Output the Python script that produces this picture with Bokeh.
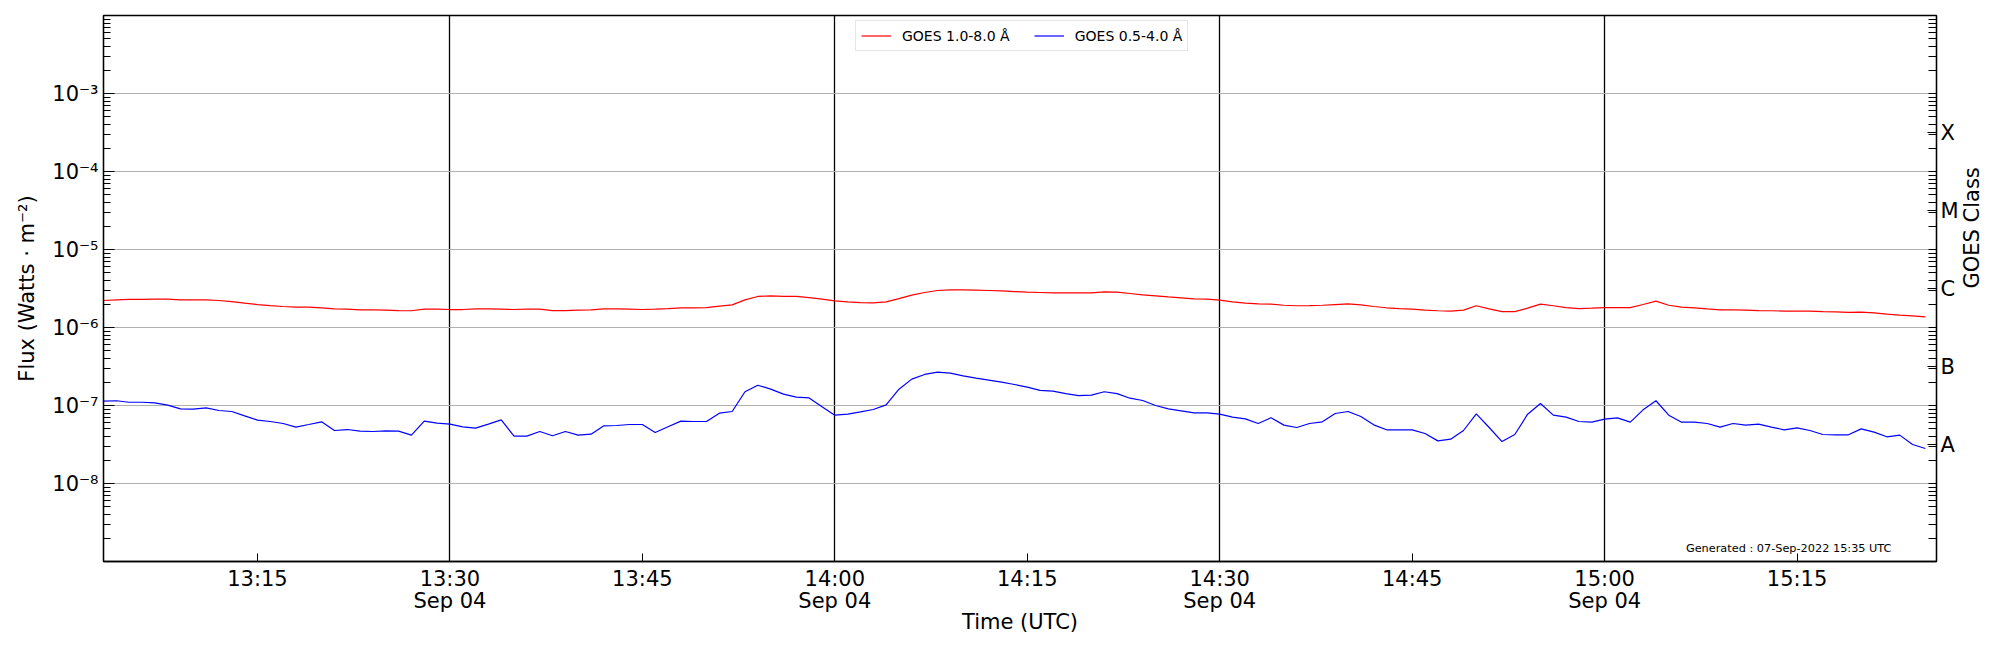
import numpy as np
import pandas as pd
from bokeh.plotting import figure
from bokeh.models import (Range1d, FixedTicker, LogAxis, Legend, LegendItem, Label,
                          CustomJSTickFormatter, ColumnDataSource)
from bokeh.embed import file_html
from bokeh.resources import INLINE

# ---------------- data ----------------
start_time = "2022-09-04 13:03:00"
x_start = "2022-09-04 13:03:00"
x_end = "2022-09-04 15:25:52"

# GOES 1.0-8.0 A flux, units of 1e-6 W/m^2, one value per minute from 13:03
goes_long_e6 = [
    2.22, 2.26, 2.29, 2.29, 2.31, 2.31, 2.26, 2.26, 2.26, 2.22,
    2.15, 2.05, 1.97, 1.91, 1.86, 1.82, 1.82, 1.79, 1.73, 1.72,
    1.68, 1.68, 1.67, 1.65, 1.64, 1.72, 1.72, 1.70, 1.70, 1.73,
    1.73, 1.72, 1.70, 1.72, 1.72, 1.65, 1.65, 1.67, 1.68, 1.73,
    1.73, 1.72, 1.70, 1.72, 1.75, 1.79, 1.79, 1.80, 1.88, 1.95,
    2.26, 2.50, 2.55, 2.50, 2.50, 2.42, 2.31, 2.20, 2.13, 2.09,
    2.07, 2.13, 2.35, 2.60, 2.81, 2.98, 3.04, 3.04, 3.01, 2.98,
    2.95, 2.89, 2.84, 2.81, 2.78, 2.78, 2.78, 2.78, 2.87, 2.84,
    2.73, 2.62, 2.55, 2.47, 2.40, 2.33, 2.31, 2.24, 2.13, 2.05,
    2.01, 1.99, 1.93, 1.90, 1.91, 1.93, 1.97, 2.01, 1.95, 1.86,
    1.79, 1.75, 1.72, 1.67, 1.64, 1.62, 1.67, 1.90, 1.73, 1.60,
    1.60, 1.77, 1.99, 1.90, 1.80, 1.75, 1.77, 1.80, 1.80, 1.80,
    1.97, 2.18, 1.93, 1.82, 1.79, 1.73, 1.68, 1.68, 1.67, 1.65,
    1.64, 1.62, 1.62, 1.62, 1.60, 1.59, 1.56, 1.57, 1.54, 1.48,
    1.44, 1.41, 1.37,
]

# GOES 0.5-4.0 A flux, units of 1e-7 W/m^2
goes_short_e7 = [
    1.14, 1.15, 1.10, 1.10, 1.08, 1.01, 0.906, 0.897, 0.934, 0.863,
    0.838, 0.737, 0.649, 0.624, 0.588, 0.528, 0.571, 0.618, 0.478, 0.492,
    0.469, 0.464, 0.473, 0.469, 0.417, 0.630, 0.594, 0.576, 0.533, 0.512,
    0.576, 0.655, 0.405, 0.405, 0.464, 0.409, 0.464, 0.417, 0.429, 0.549,
    0.554, 0.571, 0.571, 0.451, 0.533, 0.630, 0.624, 0.624, 0.797, 0.838,
    1.50, 1.82, 1.62, 1.40, 1.28, 1.25, 0.962, 0.752, 0.774, 0.829,
    0.889, 1.02, 1.62, 2.18, 2.50, 2.68, 2.60, 2.40, 2.24, 2.11,
    1.99, 1.86, 1.72, 1.56, 1.53, 1.42, 1.34, 1.36, 1.50, 1.42,
    1.24, 1.16, 1.00, 0.906, 0.855, 0.805, 0.805, 0.774, 0.709, 0.675,
    0.588, 0.695, 0.560, 0.522, 0.588, 0.618, 0.790, 0.838, 0.723, 0.565,
    0.488, 0.488, 0.488, 0.438, 0.352, 0.370, 0.478, 0.782, 0.522, 0.345,
    0.425, 0.774, 1.06, 0.752, 0.709, 0.624, 0.611, 0.668, 0.695, 0.611,
    0.880, 1.15, 0.752, 0.611, 0.611, 0.588, 0.528, 0.588, 0.560, 0.576,
    0.528, 0.488, 0.517, 0.478, 0.425, 0.421, 0.421, 0.502, 0.455, 0.397,
    0.417, 0.316, 0.281,
]

series_labels = ["GOES 1.0-8.0 Å", "GOES 0.5-4.0 Å"]

x_tick_times = ["2022-09-04 13:15", "2022-09-04 13:30", "2022-09-04 13:45",
                "2022-09-04 14:00", "2022-09-04 14:15", "2022-09-04 14:30",
                "2022-09-04 14:45", "2022-09-04 15:00", "2022-09-04 15:15"]
x_tick_labels = ["13:15", "13:30\nSep 04", "13:45", "14:00\nSep 04", "14:15",
                 "14:30\nSep 04", "14:45", "15:00\nSep 04", "15:15"]
x_vline_times = ["2022-09-04 13:30", "2022-09-04 14:00",
                 "2022-09-04 14:30", "2022-09-04 15:00"]

y_exponents = [-8, -7, -6, -5, -4, -3]
y_tick_labels = ["10⁻⁸", "10⁻⁷", "10⁻⁶", "10⁻⁵", "10⁻⁴", "10⁻³"]
goes_class_ticks = [3.16e-8, 3.16e-7, 3.16e-6, 3.16e-5, 3.16e-4]
goes_class_labels = ["A", "B", "C", "M", "X"]

generated_text = "Generated : 07-Sep-2022 15:35 UTC"

# ---------------- build ----------------
times = pd.date_range(start_time, periods=len(goes_long_e6), freq="1min")
src = ColumnDataSource(dict(
    time=times,
    long=np.array(goes_long_e6) * 1e-6,
    short=np.array(goes_short_e7) * 1e-7,
))

def ms(t):
    return int(pd.Timestamp(t).value // 10**6)

FONT = "DejaVu Sans"
FS = "21px"

p = figure(frame_width=1833, frame_height=546, x_axis_type="datetime", y_axis_type="log",
           x_range=Range1d(pd.Timestamp(x_start), pd.Timestamp(x_end)),
           y_range=Range1d(1e-9, 1e-2),
           output_backend="svg", toolbar_location=None,
           min_border_left=103, min_border_right=40, min_border_top=15, min_border_bottom=81)
p.background_fill_color = "white"
p.border_fill_color = "white"
p.outline_line_color = "black"
p.outline_line_width = 1.3

r_long = p.line("time", "long", source=src, color="#ff0000", line_width=1.2)
r_short = p.line("time", "short", source=src, color="#0000ff", line_width=1.2)

# minor ticks for log axes
minor = [m * 10.0 ** k for k in range(-9, -2) for m in range(2, 10)]
decades = [10.0 ** e for e in y_exponents]

# x axis
xax = p.xaxis[0]
xax.ticker = FixedTicker(ticks=[ms(t) for t in x_tick_times], minor_ticks=[])
xax.formatter = CustomJSTickFormatter(
    args=dict(tvals=[ms(t) for t in x_tick_times], tlabels=x_tick_labels),
    code="""
for (let i = 0; i < tvals.length; i++) {
  if (Math.abs(tvals[i] - tick) < 1000) return tlabels[i];
}
return "";
""")
xax.axis_label = "Time (UTC)"
xax.major_tick_in = 8
xax.major_tick_out = 0
xax.minor_tick_in = 0
xax.minor_tick_out = 0
xax.major_label_standoff = 5
xax.major_label_text_font = FONT
xax.major_label_text_font_size = FS
xax.major_label_text_line_height = 0.92
xax.axis_label_text_font = FONT
xax.axis_label_text_font_size = FS
xax.axis_label_text_font_style = "normal"
xax.axis_label_standoff = -6

# left y axis
yax = p.yaxis[0]
yax.ticker = FixedTicker(ticks=decades, minor_ticks=minor)
yax.formatter = CustomJSTickFormatter(
    args=dict(exps=y_exponents, ylabels=y_tick_labels),
    code="""
const e = Math.round(Math.log10(tick));
const i = exps.indexOf(e);
return i >= 0 ? ylabels[i] : "";
""")
yax.axis_label = "Flux (Watts · m⁻²)"
yax.major_tick_in = 11
yax.major_tick_out = 0
yax.minor_tick_in = 7
yax.minor_tick_out = 0
yax.major_label_standoff = 5
yax.major_label_text_font = FONT
yax.major_label_text_font_size = FS
yax.axis_label_text_font = FONT
yax.axis_label_text_font_size = FS
yax.axis_label_text_font_style = "normal"
yax.axis_label_standoff = 10

for ax in (xax, yax):
    ax.axis_line_color = "black"
    ax.axis_line_width = 1.3
    ax.major_tick_line_color = "black"
    ax.minor_tick_line_color = "black"
    ax.major_label_text_color = "black"
    ax.axis_label_text_color = "black"

# right GOES class axis
rax = LogAxis(ticker=FixedTicker(ticks=goes_class_ticks, minor_ticks=minor + decades),
              formatter=CustomJSTickFormatter(
                  args=dict(cvals=goes_class_ticks, clabels=goes_class_labels),
                  code="""
for (let i = 0; i < cvals.length; i++) {
  if (Math.abs(Math.log10(cvals[i]) - Math.log10(tick)) < 0.01) return clabels[i];
}
return "";
"""))
rax.major_tick_in = 9
rax.major_tick_out = 0
rax.minor_tick_in = 8
rax.minor_tick_out = 0
rax.major_label_standoff = 4
rax.major_label_text_font = FONT
rax.major_label_text_font_size = FS
rax.major_label_text_color = "black"
rax.axis_line_color = "black"
rax.axis_line_width = 1.3
rax.axis_label_text_font = FONT
rax.axis_label_text_font_size = FS
rax.axis_label_text_font_style = "normal"
rax.axis_label_text_color = "black"
rax.axis_label_standoff = 10
try:
    rax.axis_label_orientation = np.pi / 2   # read bottom-to-top
except Exception:
    pass
rax.axis_label = "GOES Class"
p.add_layout(rax, "right")

# grids
p.xgrid.ticker = FixedTicker(ticks=[ms(t) for t in x_vline_times], minor_ticks=[])
p.xgrid.grid_line_color = "black"
p.xgrid.grid_line_width = 1.3
p.xgrid.grid_line_alpha = 1.0
p.ygrid.ticker = FixedTicker(ticks=decades, minor_ticks=[])
p.ygrid.grid_line_color = "#b0b0b0"
p.ygrid.grid_line_width = 1.2

# legend
legend = Legend(items=[LegendItem(label=series_labels[0], renderers=[r_long]),
                       LegendItem(label=series_labels[1], renderers=[r_short])],
                orientation="horizontal", location=(752, 510))
legend.label_text_font = FONT
legend.label_text_font_size = "14px"
legend.label_text_color = "black"
legend.glyph_width = 30
legend.glyph_height = 19
legend.label_height = 19
legend.label_standoff = 11
legend.spacing = 24
legend.padding = 5
legend.margin = 0
legend.border_line_color = "#cccccc"
legend.border_line_width = 1
legend.background_fill_alpha = 0.8
p.add_layout(legend)

# generated note
p.add_layout(Label(x=1788, y=13, x_units="screen", y_units="screen",
                   text=generated_text, text_align="right", text_baseline="alphabetic",
                   text_font=FONT, text_font_size="11.3px", text_color="black"))

open("out.html", "w").write(file_html(p, INLINE))
